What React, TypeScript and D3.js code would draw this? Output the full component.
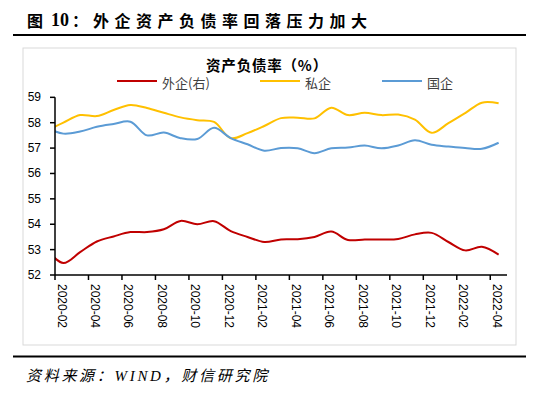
import React from 'react';
import * as d3 from 'd3';

const months = [
  '2020-01','2020-02','2020-03','2020-04','2020-05','2020-06','2020-07','2020-08','2020-09','2020-10','2020-11','2020-12',
  '2021-01','2021-02','2021-03','2021-04','2021-05','2021-06','2021-07','2021-08','2021-09','2021-10','2021-11','2021-12',
  '2022-01','2022-02','2022-03','2022-04',
];
const foreign = [53.0,52.47,52.9,53.32,53.52,53.69,53.69,53.8,54.13,54.0,54.12,53.73,53.5,53.3,53.4,53.41,53.5,53.71,53.38,53.4,53.4,53.42,53.6,53.66,53.3,52.97,53.11,52.8];
const privateEnt = [57.68,58.0,58.3,58.26,58.5,58.7,58.58,58.39,58.21,58.1,58.03,57.39,57.59,57.87,58.18,58.2,58.17,58.59,58.3,58.39,58.3,58.32,58.12,57.6,57.98,58.38,58.79,58.77];
const stateEnt = [57.8,57.57,57.65,57.84,57.95,58.04,57.5,57.61,57.39,57.36,57.8,57.39,57.15,56.9,57.0,56.99,56.8,56.99,57.02,57.1,56.99,57.1,57.31,57.13,57.06,57.0,56.97,57.21];
const tickLabels = ['2020-02','2020-04','2020-06','2020-08','2020-10','2020-12','2021-02','2021-04','2021-06','2021-08','2021-10','2021-12','2022-02','2022-04'];
const yTicks = [52,53,54,55,56,57,58,59];

const series = [
  { name: '外企(右)', values: foreign, color: '#C00000' },
  { name: '私企', values: privateEnt, color: '#FFC000' },
  { name: '国企', values: stateEnt, color: '#5B9BD5' },
];

const W = 550, H = 393;
const plot = { left: 55, right: 507, top: 97.33, bottom: 275 };

export default function App() {
  // month offset from 2020-02 (0); axis spans 27 months
  const x = d3.scaleLinear().domain([0, 27]).range([plot.left, plot.right]);
  const y = d3.scaleLinear().domain([52, 59]).range([plot.bottom, plot.top]);
  const monthIndex = (m: string) => {
    const [yy, mm] = m.split('-').map(Number);
    return (yy - 2020) * 12 + (mm - 2);
  };
  const line = d3.line<[number, number]>()
    .x(d => x(d[0] + 0.5))
    .y(d => y(d[1]))
    .curve(d3.curveCatmullRom.alpha(0.5));

  const legendX = [117, 260, 382];
  const cjk = '"Noto Sans CJK SC", "Noto Sans", sans-serif';
  const sans = '"Liberation Sans", Arial, sans-serif';

  return (
    <svg width={W} height={H} style={{ position: 'absolute', left: 0, top: 0, background: '#fff' }}>
      <rect x={0} y={0} width={W} height={H} fill="#fff" />
      <defs>
        <clipPath id="plotclip">
          <rect x={plot.left} y={60} width={plot.right - plot.left} height={240} />
        </clipPath>
      </defs>
      {/* Title */}
      <text y={20} dominantBaseline="central" fontSize={16} fontWeight={700} fill="#000" fontFamily={cjk}>
        <tspan x={27}>图</tspan>
        <tspan x={51} fontFamily='"Liberation Serif", serif' fontSize={18}>10</tspan>
        <tspan x={72}>：</tspan>
        <tspan x={93} letterSpacing={5.5}>外企资产负债率回落压力加大</tspan>
      </text>
      <line x1={13} x2={526} y1={35} y2={35} stroke="#000" strokeWidth={2} />
      {/* Chart box */}
      <rect x={23} y={48} width={493} height={297} fill="none" stroke="#d9d9d9" strokeWidth={1} />
      {/* Subtitle */}
      <text x={267} y={64} textAnchor="middle" dominantBaseline="central" fontSize={14.5} fontWeight={700} fill="#000" fontFamily={cjk} letterSpacing={0.8}>资产负债率（%）</text>
      {/* Legend */}
      {series.map((s, i) => (
        <g key={s.name}>
          <line x1={legendX[i]} x2={legendX[i] + 40} y1={81} y2={81} stroke={s.color} strokeWidth={2} />
          <text x={legendX[i] + 45} y={82} dominantBaseline="central" fontSize={13} fill="#404040" fontFamily={cjk}>{s.name}</text>
        </g>
      ))}
      {/* Lines */}
      <g clipPath="url(#plotclip)">
        {series.map(s => (
          <path key={s.name}
            d={line(s.values.map((v, i) => [monthIndex(months[i]), v] as [number, number])) || ''}
            fill="none" stroke={s.color} strokeWidth={2} />
        ))}
      </g>
      {/* Y axis */}
      <line x1={plot.left} x2={plot.left} y1={plot.top} y2={plot.bottom} stroke="#000" strokeWidth={1.5} />
      {yTicks.map(t => (
        <g key={t}>
          <line x1={plot.left - 5} x2={plot.left} y1={y(t)} y2={y(t)} stroke="#000" strokeWidth={1.5} />
          <text x={41} y={y(t)} textAnchor="end" dominantBaseline="central" fontSize={12} fill="#000" fontFamily={sans}>{t}</text>
        </g>
      ))}
      {/* X axis */}
      <line x1={plot.left} x2={plot.right} y1={plot.bottom} y2={plot.bottom} stroke="#000" strokeWidth={1.5} />
      {tickLabels.map(lb => {
        const xp = x(monthIndex(lb));
        return (
          <g key={lb}>
            <line x1={xp} x2={xp} y1={plot.bottom} y2={plot.bottom + 5} stroke="#000" strokeWidth={1.5} />
            <text transform={`translate(${xp + 6.5},284) rotate(90)`} dominantBaseline="central" fontSize={12} fill="#000" fontFamily={sans}>{lb}</text>
          </g>
        );
      })}
      {/* Bottom rule & source */}
      <line x1={13} x2={526} y1={356.5} y2={356.5} stroke="#000" strokeWidth={2} />
      <text x={26} y={376} dominantBaseline="central" fontSize={15} fontStyle="italic" letterSpacing={2.7} fill="#000" fontFamily={'"Liberation Serif", "Noto Sans CJK SC", serif'}>资料来源：WIND，财信研究院</text>
    </svg>
  );
}
